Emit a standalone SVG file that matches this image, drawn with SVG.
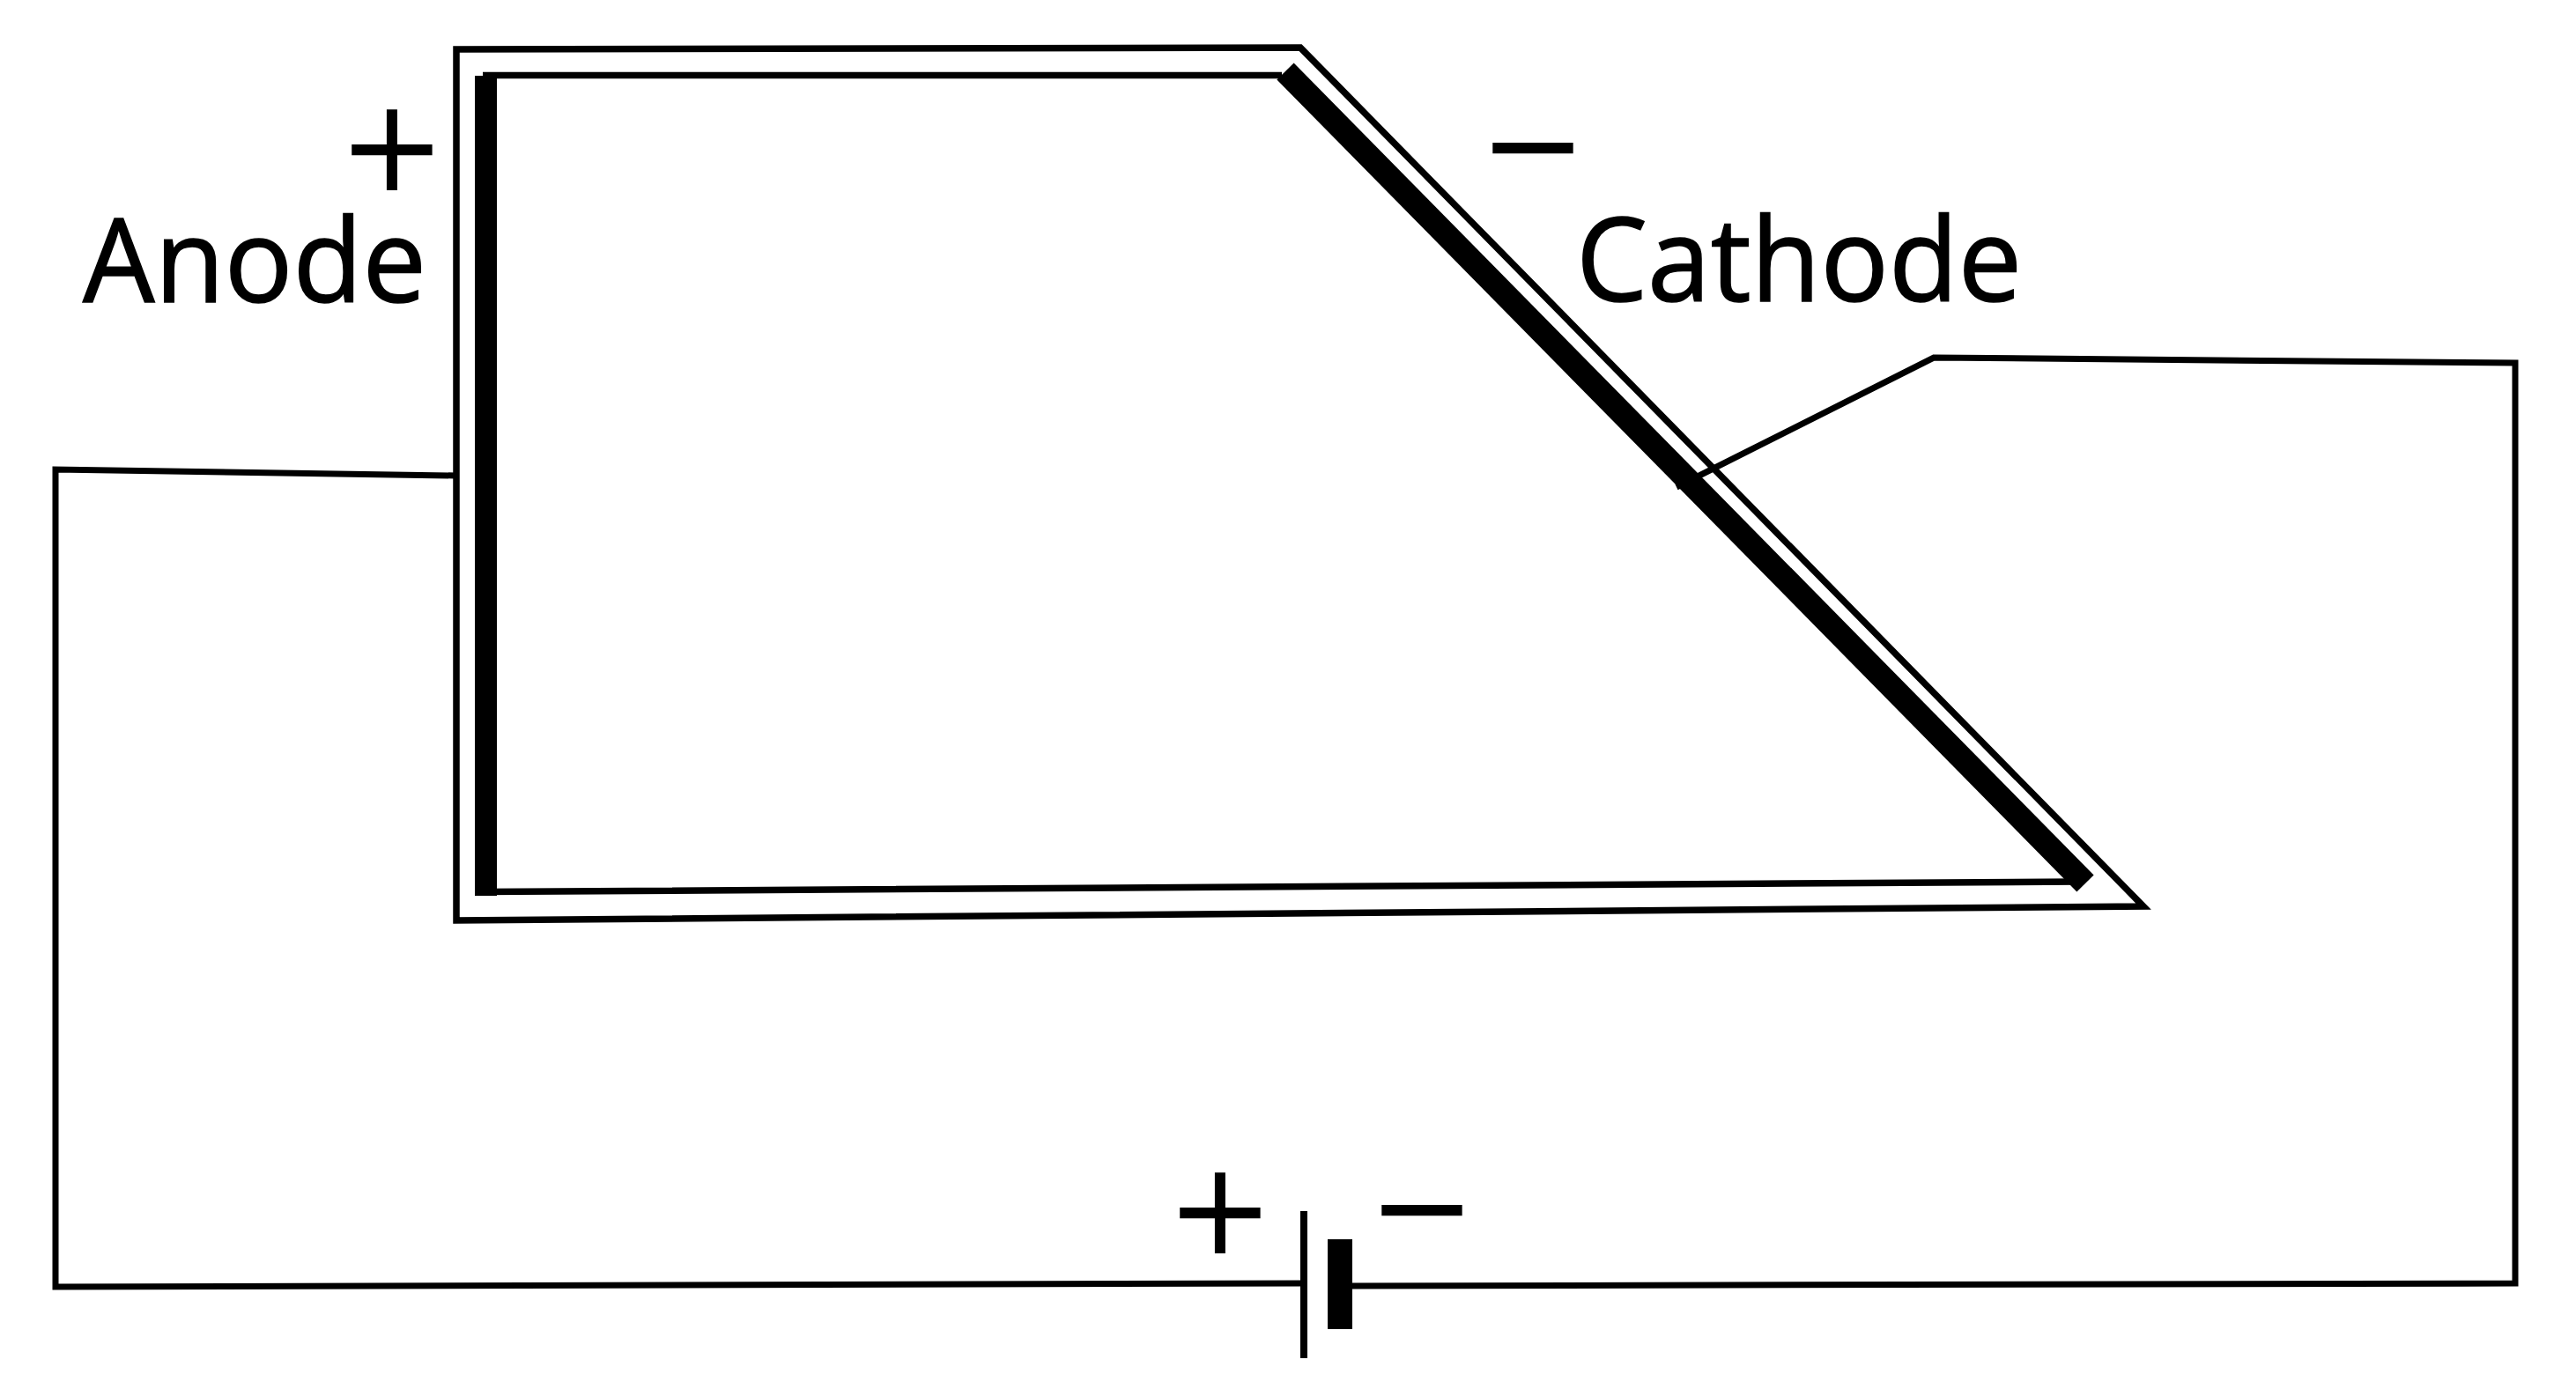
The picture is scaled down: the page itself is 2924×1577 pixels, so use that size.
<svg xmlns="http://www.w3.org/2000/svg" width="2924" height="1577" viewBox="0 0 2924 1577">
<style>
.w{fill:none;stroke:#000;stroke-width:7;stroke-linejoin:miter}
.t{fill:none;stroke:#000;stroke-width:7.500}
.lbl{font-family:"Open Sans","Noto Sans",sans-serif;font-size:131px;fill:#000;stroke:#000;stroke-width:1.500;lengthAdjust:spacingAndGlyphs}
.sym{font-family:"DejaVu Sans",sans-serif;font-size:146px;fill:#000;text-anchor:middle}
</style>
<rect width="2924" height="1577" fill="#fff"/>
<g id="cell">
<path class="t" d="M518 1045V56L1476 54L2433 1029L518 1045Z"/>
<path class="t" d="M548 85.500H1455M548 1012.500L2358 1001"/>
<rect x="539" y="86" width="25" height="931" fill="#000"/>
<path d="M1459 81L2367 1003" fill="none" stroke="#000" stroke-width="27"/>
</g>
<g id="connectors">
<path class="w" d="M517 540L63 533V1461L1480 1457"/>
<path class="w" d="M1903 553L2195 406L2855 412V1457L1533 1460"/>
</g>
<g id="battery">
<line x1="1480" y1="1375" x2="1480" y2="1542" stroke="#000" stroke-width="8"/>
<rect x="1507" y="1407" width="28" height="102" fill="#000"/>
</g>
<g id="anode-label">
<text class="sym" x="445" y="216">+</text>
<text class="lbl" x="94" y="343" textLength="390" lengthAdjust="spacingAndGlyphs">Anode</text>
</g>
<g id="cathode-label">
<text class="sym" x="1740" y="214">−</text>
<text class="lbl" x="1789" y="342" textLength="506" lengthAdjust="spacingAndGlyphs">Cathode</text>
</g>
<g id="battery-labels">
<text class="sym" x="1385" y="1423">+</text>
<text class="sym" x="1614" y="1420">−</text>
</g>
</svg>
